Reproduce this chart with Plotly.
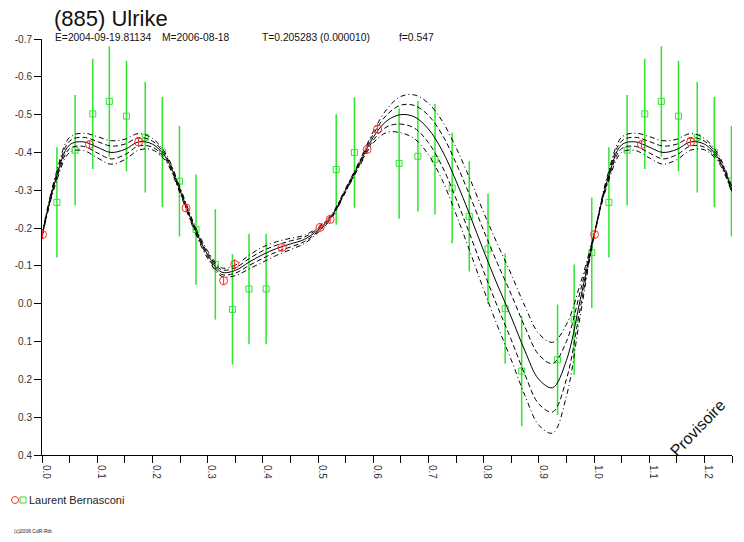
import numpy as np
import plotly.graph_objects as go

# ---------------- data ----------------
# Laurent Bernasconi - session 1 (red circles)
red_phase = [0.001, 0.086, 0.175, 0.261, 0.329, 0.349, 0.435, 0.504, 0.522, 0.589, 0.608]
red_mag = [-0.183, -0.421, -0.428, -0.253, -0.061, -0.104, -0.149, -0.202, -0.223, -0.408, -0.462]
red_err = [0.012, 0.010, 0.010, 0.010, 0.012, 0.014, 0.010, 0.010, 0.010, 0.010, 0.012]

# Laurent Bernasconi - session 2 (green squares)
green_phase = [0.027, 0.060, 0.092, 0.122, 0.153, 0.187, 0.218, 0.249, 0.279, 0.314,
               0.345, 0.375, 0.406, 0.533, 0.566, 0.647, 0.681, 0.712, 0.743, 0.774,
               0.808, 0.839, 0.869, 0.934, 0.964, 0.996]
green_mag = [-0.268, -0.406, -0.502, -0.535, -0.496, -0.440, -0.401, -0.324, -0.196, -0.104,
             0.015, -0.039, -0.039, -0.355, -0.400, -0.371, -0.390, -0.382, -0.306, -0.231,
             -0.145, 0.013, 0.178, 0.148, 0.042, -0.135]
green_err = [0.146] * len(green_phase)

# fitted light curve, sampled every 0.025 in phase (0 .. 1)
curve_phase = [round(0.025 * i, 3) for i in range(41)]
curve_center = [-0.180, -0.330, -0.420, -0.428, -0.414, -0.400, -0.408, -0.428, -0.422, -0.385,
                -0.300, -0.205, -0.130, -0.084, -0.088, -0.110, -0.130, -0.146, -0.158, -0.170,
                -0.195, -0.232, -0.300, -0.370, -0.440, -0.484, -0.500, -0.494, -0.462, -0.405,
                -0.325, -0.235, -0.140, -0.050, 0.035, 0.125, 0.200, 0.222, 0.150, -0.010,
                -0.180]
band_inner = [0.002, 0.006, 0.010, 0.012, 0.015, 0.017, 0.014, 0.011, 0.008, 0.005,
              0.004, 0.004, 0.005, 0.006, 0.007, 0.009, 0.010, 0.009, 0.008, 0.006,
              0.004, 0.003, 0.003, 0.004, 0.008, 0.016, 0.025, 0.030, 0.036, 0.042,
              0.047, 0.051, 0.054, 0.057, 0.060, 0.063, 0.065, 0.064, 0.050, 0.022,
              0.002]
band_outer = [0.004, 0.012, 0.020, 0.023, 0.028, 0.031, 0.027, 0.022, 0.015, 0.010,
              0.008, 0.008, 0.010, 0.011, 0.014, 0.018, 0.020, 0.018, 0.015, 0.011,
              0.007, 0.005, 0.005, 0.007, 0.015, 0.031, 0.048, 0.058, 0.068, 0.078,
              0.088, 0.096, 0.102, 0.108, 0.113, 0.118, 0.121, 0.120, 0.095, 0.042,
              0.004]

x_tick_vals = [round(0.05 * i, 2) for i in range(26)]
x_tick_text = ["%.1f" % v if i % 2 == 0 else "" for i, v in enumerate(x_tick_vals)]
y_tick_vals = [-0.7, -0.6, -0.5, -0.4, -0.3, -0.2, -0.1, 0.0, 0.1, 0.2, 0.3, 0.4]
y_tick_text = ["-0.7", "-0.6", "-0.5", "-0.4", "-0.3", "-0.2", "-0.1", "0.0", "0.1", "0.2", "0.3", "0.4"]

title_text = "(885) Ulrike"
sub_parts = ["E=2004-09-19.81134", "M=2006-08-18", "T=0.205283 (0.000010)", "f=0.547"]
observer = "Laurent Bernasconi"

PHASE_MAX = 1.25
REPEAT_BELOW = 0.25


# ---------------- helpers ----------------
def wrap_points(ph, *vals):
    """Repeat points of phase < 0.25 one period later (as the reference does)."""
    ph = np.asarray(ph)
    sel = ph < REPEAT_BELOW
    out_ph = np.concatenate([ph, ph[sel] + 1.0])
    out_vals = [np.concatenate([np.asarray(v), np.asarray(v)[sel]]) for v in vals]
    return (out_ph, *out_vals)


def wrap_curve(ph, vals):
    ph = np.asarray(ph)
    v = np.asarray(vals)
    sel = (ph > 0) & (ph <= REPEAT_BELOW + 1e-9)
    return np.concatenate([ph, ph[sel] + 1.0]), np.concatenate([v, v[sel]])


FONT = "Liberation Sans, Arial, Helvetica, sans-serif"
W, H = 744, 542
ML, MR, MT, MB = 42, 12, 39, 87
PW, PH = W - ML - MR, H - MT - MB


def pxx(p):
    return (p - ML) / PW


def pxy(p):
    return (H - MB - p) / PH


GREEN = "#2fe52f"
RED = "#ff2a2a"

fig = go.Figure()

# green observations
gp, gm, ge = wrap_points(green_phase, green_mag, green_err)
fig.add_trace(go.Scatter(
    x=gp, y=gm, mode="markers",
    marker=dict(symbol="square-open", size=6, color=GREEN, line=dict(width=1, color=GREEN)),
    error_y=dict(type="data", array=ge, visible=True, color=GREEN, thickness=1.5, width=0),
    showlegend=False, hoverinfo="skip"))

# fitted curves
cen = np.asarray(curve_center)
inn = np.asarray(band_inner)
out = np.asarray(band_outer)
curves = [
    (cen - out, "5px,3px,1px,3px"),
    (cen + out, "5px,3px,1px,3px"),
    (cen - inn, "5px,3px"),
    (cen + inn, "5px,3px"),
    (cen, "solid"),
]
for vals, dash in curves:
    cx, cy = wrap_curve(curve_phase, vals)
    fig.add_trace(go.Scatter(
        x=cx, y=cy, mode="lines", line=dict(color="black", width=1, dash=dash, shape="spline", smoothing=1.0),
        showlegend=False, hoverinfo="skip"))

# red observations
rp, rm, re_ = wrap_points(red_phase, red_mag, red_err)
fig.add_trace(go.Scatter(
    x=rp, y=rm, mode="markers",
    marker=dict(symbol="circle-open", size=8, color=RED, line=dict(width=1, color=RED)),
    error_y=dict(type="data", array=re_, visible=True, color=RED, thickness=1, width=0),
    showlegend=False, hoverinfo="skip"))

fig.update_layout(
    width=W, height=H, autosize=False,
    margin=dict(l=ML, r=MR, t=MT, b=MB),
    paper_bgcolor="white", plot_bgcolor="white",
    font=dict(family=FONT, size=10, color="#222"),
    showlegend=False,
)
fig.update_xaxes(
    range=[0, PHASE_MAX], showgrid=False, zeroline=False,
    showline=True, linecolor="black", linewidth=1,
    tickmode="array", tickvals=x_tick_vals, ticktext=x_tick_text,
    ticks="outside", ticklen=7, tickcolor="black", tickwidth=1,
    tickangle=90, tickfont=dict(family=FONT, size=10, color="#333"),
    ticklabelshift=4, ticklabelstandoff=0,
)
fig.update_yaxes(
    range=[0.4, -0.7], showgrid=False, zeroline=False,
    showline=True, linecolor="black", linewidth=1,
    tickmode="array", tickvals=y_tick_vals, ticktext=y_tick_text,
    ticks="outside", ticklen=7, tickcolor="black", tickwidth=1,
    tickfont=dict(family=FONT, size=10, color="#333"),
)

ann = []
ann.append(dict(x=pxx(52), y=pxy(19), xref="paper", yref="paper", text=title_text,
                showarrow=False, xanchor="left", yanchor="middle",
                font=dict(family=FONT, size=22, color="#111")))
for txt, xpx in zip(sub_parts, [53, 160, 260, 397]):
    ann.append(dict(x=pxx(xpx), y=pxy(38), xref="paper", yref="paper", text=txt,
                    showarrow=False, xanchor="left", yanchor="middle",
                    font=dict(family=FONT, size=10.3, color="#111")))
ann.append(dict(x=pxx(697), y=pxy(428), xref="paper", yref="paper", text="Provisoire",
                showarrow=False, textangle=-46, xanchor="center", yanchor="middle",
                font=dict(family=FONT, size=16, color="#111")))
ann.append(dict(x=pxx(27), y=pxy(500), xref="paper", yref="paper", text=observer,
                showarrow=False, xanchor="left", yanchor="middle",
                font=dict(family=FONT, size=11, color="#222")))
ann.append(dict(x=pxx(12), y=pxy(531), xref="paper", yref="paper", text="(c)2006 CdR-Rtb",
                showarrow=False, xanchor="left", yanchor="middle",
                font=dict(family=FONT, size=5, color="#222")))
fig.update_layout(annotations=ann)

# legend symbols
fig.add_shape(type="circle", xref="paper", yref="paper", xsizemode="pixel", ysizemode="pixel",
              xanchor=pxx(15), yanchor=pxy(500), x0=-3.5, x1=3.5, y0=-3.5, y1=3.5,
              line=dict(color=RED, width=1))
fig.add_shape(type="rect", xref="paper", yref="paper", xsizemode="pixel", ysizemode="pixel",
              xanchor=pxx(23), yanchor=pxy(500), x0=-3, x1=3, y0=-3, y1=3,
              line=dict(color=GREEN, width=1))

# remove the browser's default page margin so the figure sits at (0, 0)
fig.write_html("out.html", config={"displayModeBar": False},
               post_script="document.body.style.margin='0px';document.body.style.overflow='hidden';")
